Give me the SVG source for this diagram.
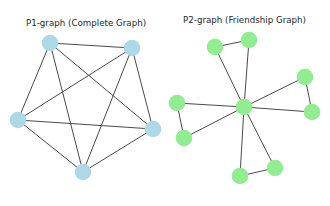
<svg xmlns="http://www.w3.org/2000/svg" width="330" height="206" viewBox="0 0 330 206">
<style>
.t{font-family:"DejaVu Sans",sans-serif;font-size:8.7px;fill:#262626;text-anchor:middle}
.e line{stroke:#4a4a4a;stroke-width:1}
.p1{fill:#add8e6}
.p2{fill:#90ee90}
</style>
<rect width="330" height="206" fill="#fff"/>
<text class="t" x="86" y="25.5">P1-graph (Complete Graph)</text>
<text class="t" x="244.5" y="22.5">P2-graph (Friendship Graph)</text>
<g id="connectors" class="e">
<line x1="50" y1="43" x2="132" y2="48"/>
<line x1="50" y1="43" x2="18" y2="120"/>
<line x1="50" y1="43" x2="153" y2="129"/>
<line x1="50" y1="43" x2="83" y2="172"/>
<line x1="132" y1="48" x2="18" y2="120"/>
<line x1="132" y1="48" x2="153" y2="129"/>
<line x1="132" y1="48" x2="83" y2="172"/>
<line x1="18" y1="120" x2="153" y2="129"/>
<line x1="18" y1="120" x2="83" y2="172"/>
<line x1="153" y1="129" x2="83" y2="172"/>
<line x1="244" y1="107" x2="215" y2="47"/>
<line x1="244" y1="107" x2="249" y2="40"/>
<line x1="215" y1="47" x2="249" y2="40"/>
<line x1="244" y1="107" x2="305" y2="77"/>
<line x1="244" y1="107" x2="312" y2="112"/>
<line x1="305" y1="77" x2="312" y2="112"/>
<line x1="244" y1="107" x2="177" y2="103"/>
<line x1="244" y1="107" x2="184" y2="138"/>
<line x1="177" y1="103" x2="184" y2="138"/>
<line x1="244" y1="107" x2="240" y2="176"/>
<line x1="244" y1="107" x2="275" y2="168"/>
<line x1="240" y1="176" x2="275" y2="168"/>
</g>
<g id="p1-0"><circle class="p1" cx="50" cy="43" r="8.3"/></g>
<g id="p1-1"><circle class="p1" cx="132" cy="48" r="8.3"/></g>
<g id="p1-2"><circle class="p1" cx="18" cy="120" r="8.3"/></g>
<g id="p1-3"><circle class="p1" cx="153" cy="129" r="8.3"/></g>
<g id="p1-4"><circle class="p1" cx="83" cy="172" r="8.3"/></g>
<g id="p2-0"><circle class="p2" cx="244" cy="107" r="8.3"/></g>
<g id="p2-1"><circle class="p2" cx="215" cy="47" r="8.3"/></g>
<g id="p2-2"><circle class="p2" cx="249" cy="40" r="8.3"/></g>
<g id="p2-3"><circle class="p2" cx="305" cy="77" r="8.3"/></g>
<g id="p2-4"><circle class="p2" cx="312" cy="112" r="8.3"/></g>
<g id="p2-5"><circle class="p2" cx="177" cy="103" r="8.3"/></g>
<g id="p2-6"><circle class="p2" cx="184" cy="138" r="8.3"/></g>
<g id="p2-7"><circle class="p2" cx="240" cy="176" r="8.3"/></g>
<g id="p2-8"><circle class="p2" cx="275" cy="168" r="8.3"/></g>
</svg>
